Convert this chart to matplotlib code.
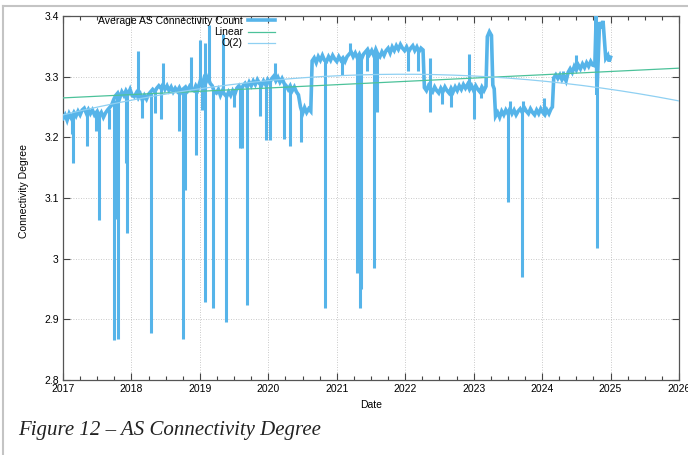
import numpy as np
import matplotlib
matplotlib.use("Agg")
import matplotlib.pyplot as plt
from matplotlib.lines import Line2D
from matplotlib.ticker import MultipleLocator

# ---- data (decimal years) ----
base_year = [
 2017.00,2017.03,2017.06,2017.09,2017.12,2017.16,2017.19,2017.22,2017.25,2017.28,2017.31,2017.34,2017.37,2017.40,2017.43,2017.46,2017.50,2017.53,2017.56,2017.59,
 2017.62,2017.65,2017.68,2017.71,2017.74,2017.77,2017.80,2017.83,2017.86,2017.89,2017.92,2017.95,2017.98,2018.01,2018.04,2018.07,2018.10,2018.13,2018.16,2018.19,
 2018.22,2018.25,2018.28,2018.31,2018.34,2018.37,2018.40,2018.43,2018.46,2018.49,2018.52,2018.55,2018.58,2018.61,2018.64,2018.67,2018.70,2018.73,2018.76,2018.79,
 2018.82,2018.85,2018.88,2018.91,2018.94,2018.97,2019.00,2019.03,2019.06,2019.09,2019.12,2019.15,2019.18,2019.21,2019.24,2019.27,2019.30,2019.33,2019.36,2019.39,
 2019.42,2019.45,2019.48,2019.51,2019.54,2019.57,2019.60,2019.63,2019.66,2019.69,2019.72,2019.75,2019.78,2019.81,2019.84,2019.87,2019.90,2019.93,2019.96,2019.99,
 2020.02,2020.05,2020.08,2020.11,2020.14,2020.17,2020.20,2020.23,2020.26,2020.29,2020.32,2020.35,2020.38,2020.41,2020.44,2020.47,2020.50,2020.53,2020.56,2020.59,
 2020.62,2020.64,2020.67,2020.70,2020.73,2020.76,2020.79,2020.82,2020.85,2020.88,2020.91,2020.94,2020.97,2021.00,2021.03,2021.06,2021.09,2021.12,2021.15,2021.18,
 2021.21,2021.24,2021.27,2021.30,2021.33,2021.36,2021.39,2021.42,2021.45,2021.48,2021.51,2021.54,2021.57,2021.60,2021.63,2021.66,2021.69,2021.72,2021.75,2021.78,
 2021.81,2021.84,2021.87,2021.90,2021.93,2021.96,2021.99,2022.02,2022.05,2022.08,2022.11,2022.14,2022.17,2022.20,2022.23,2022.26,2022.28,2022.31,2022.34,2022.37,
 2022.40,2022.43,2022.46,2022.49,2022.52,2022.55,2022.58,2022.61,2022.64,2022.67,2022.70,2022.73,2022.76,2022.79,2022.82,2022.85,2022.88,2022.91,2022.94,2022.97,
 2023.00,2023.03,2023.06,2023.09,2023.12,2023.15,2023.18,2023.20,2023.23,2023.26,2023.28,2023.30,2023.32,2023.35,2023.38,2023.41,2023.44,2023.47,2023.50,2023.53,
 2023.56,2023.59,2023.62,2023.65,2023.68,2023.71,2023.74,2023.77,2023.80,2023.83,2023.86,2023.89,2023.92,2023.95,2023.98,2024.01,2024.04,2024.07,2024.10,2024.13,
 2024.15,2024.17,2024.20,2024.23,2024.26,2024.29,2024.32,2024.35,2024.38,2024.41,2024.44,2024.47,2024.50,2024.53,2024.56,2024.59,2024.62,2024.65,2024.68,2024.71,
 2024.74,2024.77,2024.79,2024.80,2024.82,2024.84,2024.87,2024.89,2024.91,2024.93,2024.96,2024.98,2025.00]
base_value = [
 3.231,3.237,3.228,3.239,3.232,3.241,3.235,3.243,3.237,3.245,3.248,3.240,3.246,3.239,3.245,3.237,3.243,3.235,3.241,3.233,
 3.240,3.245,3.249,3.253,3.262,3.269,3.273,3.265,3.275,3.269,3.277,3.271,3.279,3.269,3.267,3.273,3.265,3.271,3.261,3.269,
 3.263,3.271,3.275,3.279,3.275,3.281,3.285,3.281,3.287,3.279,3.285,3.277,3.283,3.275,3.281,3.276,3.282,3.275,3.280,3.283,
 3.277,3.284,3.279,3.277,3.285,3.279,3.291,3.285,3.297,3.291,3.299,3.289,3.285,3.275,3.273,3.279,3.269,3.277,3.271,3.267,
 3.275,3.269,3.277,3.271,3.281,3.285,3.277,3.285,3.289,3.283,3.291,3.285,3.293,3.287,3.295,3.289,3.285,3.293,3.287,3.295,
 3.289,3.297,3.301,3.293,3.299,3.291,3.297,3.289,3.285,3.279,3.285,3.277,3.283,3.275,3.270,3.250,3.239,3.249,3.241,3.247,
 3.243,3.326,3.331,3.323,3.333,3.327,3.335,3.327,3.325,3.333,3.327,3.335,3.329,3.325,3.333,3.327,3.331,3.325,3.333,3.337,
 3.341,3.333,3.339,3.331,3.337,3.329,3.337,3.341,3.345,3.337,3.343,3.335,3.345,3.337,3.333,3.341,3.335,3.343,3.347,3.339,
 3.349,3.343,3.351,3.345,3.353,3.347,3.343,3.349,3.341,3.347,3.351,3.343,3.349,3.341,3.347,3.344,3.282,3.277,3.285,3.279,
 3.275,3.283,3.277,3.273,3.281,3.275,3.283,3.277,3.273,3.281,3.275,3.283,3.277,3.285,3.279,3.287,3.281,3.287,3.279,3.285,
 3.277,3.285,3.279,3.275,3.283,3.277,3.284,3.366,3.374,3.368,3.286,3.280,3.235,3.241,3.233,3.243,3.237,3.245,3.239,3.247,
 3.239,3.245,3.237,3.243,3.247,3.241,3.249,3.243,3.239,3.247,3.241,3.237,3.245,3.239,3.247,3.241,3.237,3.245,3.239,3.247,
 3.250,3.298,3.303,3.297,3.303,3.295,3.301,3.293,3.307,3.313,3.307,3.317,3.311,3.319,3.313,3.321,3.315,3.323,3.317,3.325,
 3.319,3.318,3.400,3.270,3.330,3.390,3.380,3.392,3.360,3.330,3.335,3.325,3.332]

# narrow vertical excursions: date, level it leaves from, extreme value
spike_year = [2017.13,2017.14,2017.35,2017.48,2017.53,2017.67,2017.745,2017.79,2017.81,2017.92,2017.935,2018.10,2018.15,2018.28,
 2018.34,2018.43,2018.46,2018.69,2018.76,2018.78,2018.87,2018.95,2019.005,2019.035,2019.07,2019.08,2019.13,2019.19,2019.34,2019.38,
 2019.50,2019.59,2019.61,2019.69,2019.88,2019.97,2020.025,2020.10,2020.235,2020.31,2020.475,2020.83,2021.07,2021.20,2021.29,
 2021.34,2021.36,2021.44,2021.54,2021.59,2022.04,2022.19,2022.36,2022.365,2022.54,2022.67,2022.93,2023.01,2023.11,2023.50,
 2023.535,2023.71,2023.715,2024.03,2024.31,2024.49,2024.805]
spike_from = [3.236,3.236,3.242,3.240,3.238,3.246,3.262,3.270,3.270,3.275,3.275,3.268,3.265,3.273,
 3.277,3.283,3.285,3.279,3.278,3.280,3.281,3.282,3.289,3.287,3.294,3.294,3.295,3.282,3.275,3.270,
 3.275,3.280,3.280,3.285,3.289,3.290,3.291,3.297,3.288,3.283,3.248,3.327,3.330,3.338,3.335,
 3.334,3.333,3.342,3.339,3.340,3.345,3.346,3.282,3.282,3.278,3.278,3.283,3.281,3.279,3.242,
 3.243,3.244,3.244,3.240,3.298,3.314,3.300]
spike_value = [3.205,3.157,3.185,3.210,3.064,3.213,2.866,3.066,2.868,3.157,3.042,3.343,3.232,2.877,
 3.240,3.230,3.322,3.210,2.868,3.113,3.333,3.171,3.360,3.245,2.929,3.355,3.385,2.918,3.370,2.896,
 3.250,3.182,3.182,2.924,3.235,3.196,3.196,3.322,3.197,3.185,3.193,2.918,3.303,3.355,2.976,
 2.918,2.950,3.310,2.985,3.242,3.310,3.310,3.330,3.242,3.255,3.250,3.337,3.231,3.265,3.094,
 3.260,2.970,3.260,3.265,3.310,3.335,3.018]

linear_years = [2017, 2026]
linear_values = [3.265, 3.314]
quad_years = [2017, 2022, 2026]
quad_values = [3.237, 3.304, 3.260]

year_ticks = [2017, 2018, 2019, 2020, 2021, 2022, 2023, 2024, 2025, 2026]
value_ticks = [2.8, 2.9, 3.0, 3.1, 3.2, 3.3, 3.4]
value_labels = ["2.8", "2.9", "3", "3.1", "3.2", "3.3", "3.4"]

series_labels = ["Average AS Connectivity Count", "Linear", "O(2)"]
caption = "Figure 12 \u2013 AS Connectivity Degree"

# ---- figure ----
plt.rcParams['font.family'] = ['Liberation Sans', 'DejaVu Sans']
fig = plt.figure(figsize=(6.88, 4.55), dpi=100)
W, H = 688, 455
ax = fig.add_axes([63 / W, 1 - 380 / H, (679 - 63) / W, (380 - 16) / H])

data_color = "#56b4e9"
ax.plot(base_year, base_value, color=data_color, lw=2.6, solid_joinstyle="miter",
        label=series_labels[0], zorder=3)
ax.vlines(spike_year, spike_from, spike_value, color=data_color, lw=2.2, zorder=3)

ax.plot(linear_years, linear_values, color="#4cc29a", lw=0.9, label=series_labels[1], zorder=4)
coef = np.polyfit(quad_years, quad_values, 2)
qx = np.linspace(2017, 2026, 200)
ax.plot(qx, np.polyval(coef, qx), color="#8fd0f2", lw=0.9, label=series_labels[2], zorder=4)

ax.set_xlim(2017, 2026)
ax.set_ylim(2.8, 3.4)
ax.set_xticks(year_ticks)
ax.set_xticklabels([str(t) for t in year_ticks])
ax.set_yticks(value_ticks)
ax.set_yticklabels(value_labels)
ax.xaxis.set_minor_locator(MultipleLocator(0.25))
ax.tick_params(which="both", direction="in", top=True, right=True, labelsize=7.5,
               color="#444444", width=0.8)
ax.tick_params(which="major", length=5, pad=3)
ax.tick_params(which="minor", length=3)
ax.tick_params(axis="y", which="minor", left=False, right=False)
ax.grid(True, which="major", color="#b8b8b8", lw=0.6, ls=(0, (1, 2)))
for s in ax.spines.values():
    s.set_color("#555555")
    s.set_linewidth(0.9)

ax.set_xlabel("Date", fontsize=7.5, labelpad=4)
ax.set_ylabel("Connectivity Degree", fontsize=7.5)
ax.yaxis.set_label_coords(-0.056, 0.52)

leg = ax.legend(loc="upper right", bbox_to_anchor=((275 - 63) / 616, 1.0), frameon=False,
                markerfirst=False, fontsize=7.5, handlelength=2.6, handletextpad=0.5,
                labelspacing=0.12, borderpad=0, borderaxespad=0)

fig.text(18 / W, 1 - 435 / H, caption, fontsize=15, family="Liberation Serif",
         style="italic", color="#222222", va="baseline", ha="left")

fig.add_artist(Line2D([3 / W, 1], [1 - 6 / H, 1 - 6 / H], color="#c4c4c4", lw=1.5))
fig.add_artist(Line2D([3 / W, 3 / W], [0, 1 - 6 / H], color="#c4c4c4", lw=1.5))

fig.savefig("out.png", dpi=100)
